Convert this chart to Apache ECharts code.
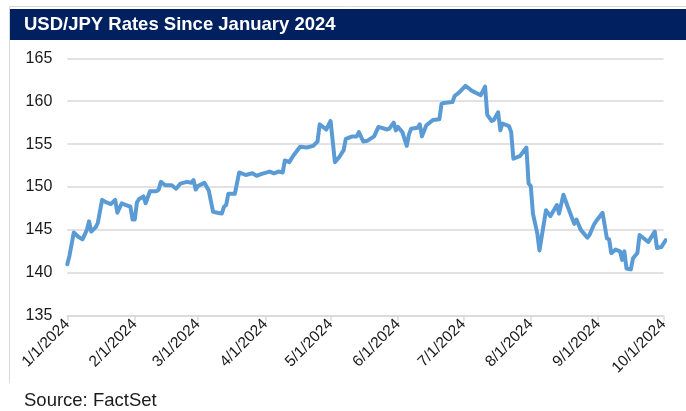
<!DOCTYPE html>
<html>
<head>
<meta charset="utf-8">
<script src="https://cdn.jsdelivr.net/npm/echarts@6/dist/echarts.min.js"></script>
<style>
html,body{margin:0;padding:0;background:#fff;}
#chart{width:686px;height:411px;}
</style>
</head>
<body>
<div id="chart"></div>
<script>
const titleText = 'USD/JPY Rates Since January 2024';
const sourceText = 'Source: FactSet';
const yTicks = [135, 140, 145, 150, 155, 160, 165];
const dates = [
'2024-01-01','2024-01-02','2024-01-04','2024-01-06','2024-01-08','2024-01-10','2024-01-11','2024-01-12','2024-01-14','2024-01-15',
'2024-01-17','2024-01-19','2024-01-21','2024-01-23','2024-01-24','2024-01-26','2024-01-28','2024-01-30','2024-01-31','2024-02-01',
'2024-02-02','2024-02-03','2024-02-05','2024-02-06','2024-02-08','2024-02-11','2024-02-12','2024-02-13','2024-02-15','2024-02-18',
'2024-02-20','2024-02-22','2024-02-25','2024-02-27','2024-02-28','2024-02-29','2024-03-01','2024-03-04','2024-03-06','2024-03-08',
'2024-03-10','2024-03-12','2024-03-13','2024-03-14','2024-03-15','2024-03-18','2024-03-20','2024-03-23','2024-03-26','2024-03-28',
'2024-03-30','2024-04-03','2024-04-05','2024-04-07','2024-04-09','2024-04-10','2024-04-12','2024-04-14','2024-04-17','2024-04-20',
'2024-04-23','2024-04-25','2024-04-26','2024-04-29','2024-05-01','2024-05-03','2024-05-05','2024-05-07','2024-05-08','2024-05-11',
'2024-05-13','2024-05-14','2024-05-16','2024-05-18','2024-05-21','2024-05-23','2024-05-27','2024-05-28','2024-05-30','2024-05-31',
'2024-06-01','2024-06-03','2024-06-05','2024-06-06','2024-06-07','2024-06-10','2024-06-11','2024-06-12','2024-06-14','2024-06-17',
'2024-06-20','2024-06-21','2024-06-22','2024-06-26','2024-06-27','2024-06-29','2024-07-02','2024-07-05','2024-07-09','2024-07-11',
'2024-07-12','2024-07-14','2024-07-15','2024-07-17','2024-07-18','2024-07-19','2024-07-22','2024-07-23','2024-07-24','2024-07-27',
'2024-07-30','2024-07-31','2024-08-01','2024-08-02','2024-08-04','2024-08-05','2024-08-08','2024-08-10','2024-08-13','2024-08-14',
'2024-08-16','2024-08-18','2024-08-21','2024-08-22','2024-08-24','2024-08-27','2024-08-28','2024-08-30','2024-08-31','2024-09-03',
'2024-09-05','2024-09-06','2024-09-07','2024-09-09','2024-09-11','2024-09-12','2024-09-13','2024-09-14','2024-09-16','2024-09-17',
'2024-09-19','2024-09-20','2024-09-22','2024-09-24','2024-09-27','2024-09-28','2024-09-30','2024-10-01','2024-10-02'
];
const rates = [
141.0,142.0,144.7,144.2,143.9,145.0,146.0,144.8,145.3,145.8,
148.5,148.2,148.0,148.5,147.0,148.1,147.9,147.7,146.2,146.2,
148.2,148.6,148.9,148.1,149.5,149.5,149.7,150.6,150.2,150.2,
149.8,150.4,150.6,150.5,150.8,149.7,150.1,150.5,149.6,147.1,
147.0,146.9,147.7,147.9,149.2,149.2,151.7,151.4,151.6,151.3,
151.5,151.8,151.6,151.8,151.7,153.1,152.9,153.7,154.7,154.6,
154.8,155.3,157.3,156.7,157.7,152.9,153.5,154.3,155.6,155.9,
155.9,156.4,155.3,155.4,155.9,157.0,156.7,156.8,157.5,156.6,
157.0,156.4,154.8,156.1,156.8,156.9,157.3,155.9,157.2,157.8,
157.9,159.7,159.8,159.9,160.6,161.0,161.8,161.2,160.7,161.7,
158.4,157.7,157.8,158.7,156.6,157.4,157.1,156.4,153.3,153.6,
154.6,150.4,150.1,146.9,144.6,142.6,147.3,146.6,147.9,146.9,
149.1,147.7,145.7,146.2,145.0,144.1,144.4,145.6,146.0,147.0,
144.0,143.9,142.3,142.7,142.5,141.5,142.5,140.5,140.4,141.7,
142.3,144.4,144.0,143.6,144.8,142.9,143.0,143.4,143.8
];

const FONT = '"Liberation Sans", Arial, sans-serif';
const chart = echarts.init(document.getElementById('chart'));
const option = {
  animation: false,
  backgroundColor: '#ffffff',
  graphic: [
    { type: 'line', shape: { x1: 9.5, y1: 6.5, x2: 686, y2: 6.5 }, style: { stroke: '#d9d9d9', lineWidth: 1 }, silent: true },
    { type: 'line', shape: { x1: 9.5, y1: 6.5, x2: 9.5, y2: 383 }, style: { stroke: '#d9d9d9', lineWidth: 1 }, silent: true },
    { type: 'rect', shape: { x: 9.5, y: 9, width: 677, height: 31 }, style: { fill: '#002060' }, silent: true, z: -1 }
  ],
  title: [
    { text: titleText, left: 24, top: 15, padding: 0,
      textStyle: { color: '#ffffff', fontSize: 18.5, fontWeight: 'bold', fontFamily: FONT } },
    { text: sourceText, left: 24, top: 391, padding: 0,
      textStyle: { color: '#1a1a1a', fontSize: 18.5, fontWeight: 'normal', fontFamily: FONT } }
  ],
  grid: { left: 67.3, right: 22.5, top: 58.3, bottom: 95.3, containLabel: false },
  xAxis: {
    type: 'time',
    min: '2024-01-01',
    max: '2024-10-01',
    splitNumber: 9,
    minInterval: 28 * 86400000,
    maxInterval: 31 * 86400000,
    axisLine: { show: true, lineStyle: { color: '#d9d9d9', width: 1.5 } },
    axisTick: { show: true, length: 5, lineStyle: { color: '#d9d9d9', width: 1.5 } },
    splitLine: { show: false },
    axisLabel: {
      rotate: 45, margin: 6, color: '#1a1a1a', fontSize: 15.5, fontFamily: FONT,
      showMinLabel: true, showMaxLabel: true, hideOverlap: false,
      formatter: function (v) {
        const d = new Date(v);
        return (d.getMonth() + 1) + '/' + d.getDate() + '/' + d.getFullYear();
      }
    }
  },
  yAxis: {
    type: 'value',
    min: yTicks[0],
    max: yTicks[yTicks.length - 1],
    interval: 5,
    axisLine: { show: false },
    axisTick: { show: false },
    splitLine: { show: true, lineStyle: { color: '#d9d9d9', width: 1.5 } },
    axisLabel: { margin: 15, color: '#1a1a1a', fontSize: 16, fontFamily: FONT }
  },
  series: [{
    type: 'line',
    data: dates.map((d, i) => [d, rates[i]]),
    showSymbol: false,
    clip: false,
    lineStyle: { color: '#5b9bd5', width: 4, join: 'round', cap: 'round' },
    itemStyle: { color: '#5b9bd5' }
  }]
};
chart.setOption(option);
</script>
</body>
</html>
